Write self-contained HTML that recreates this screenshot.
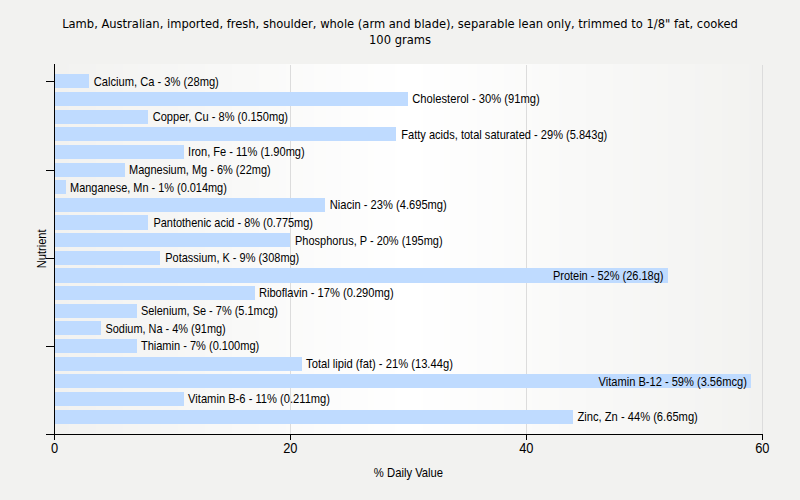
<!DOCTYPE html>
<html><head><meta charset="utf-8"><title>Lamb, Australian, imported, fresh, shoulder - % Daily Value</title>
<style>html,body{margin:0;padding:0;background:#f2f2f0;width:800px;height:500px;overflow:hidden}svg{display:block}</style>
</head><body>
<svg width="800" height="500" viewBox="0 0 800 500">
<rect x="0" y="0" width="800" height="500" fill="#f2f2f0"/>
<g shape-rendering="crispEdges">
<rect x="55" y="64" width="12" height="370" fill="#f2f2f0"/>
<rect x="67" y="64" width="2" height="370" fill="#f2f2f1"/>
<rect x="69" y="64" width="21" height="370" fill="#f3f3f1"/>
<rect x="90" y="64" width="6" height="370" fill="#f3f3f2"/>
<rect x="96" y="64" width="18" height="370" fill="#f4f4f2"/>
<rect x="114" y="64" width="9" height="370" fill="#f4f4f3"/>
<rect x="123" y="64" width="15" height="370" fill="#f5f5f3"/>
<rect x="138" y="64" width="12" height="370" fill="#f5f5f4"/>
<rect x="150" y="64" width="11" height="370" fill="#f6f6f4"/>
<rect x="161" y="64" width="17" height="370" fill="#f6f6f5"/>
<rect x="178" y="64" width="7" height="370" fill="#f7f7f5"/>
<rect x="185" y="64" width="20" height="370" fill="#f7f7f6"/>
<rect x="205" y="64" width="3" height="370" fill="#f8f8f6"/>
<rect x="208" y="64" width="24" height="370" fill="#f8f8f7"/>
<rect x="232" y="64" width="24" height="370" fill="#f9f9f8"/>
<rect x="256" y="64" width="3" height="370" fill="#f9f9f9"/>
<rect x="259" y="64" width="20" height="370" fill="#fafaf9"/>
<rect x="279" y="64" width="7" height="370" fill="#fafafa"/>
<rect x="286" y="64" width="17" height="370" fill="#fbfbfa"/>
<rect x="303" y="64" width="11" height="370" fill="#fbfbfb"/>
<rect x="314" y="64" width="12" height="370" fill="#fcfcfb"/>
<rect x="326" y="64" width="15" height="370" fill="#fcfcfc"/>
<rect x="341" y="64" width="9" height="370" fill="#fdfdfc"/>
<rect x="350" y="64" width="18" height="370" fill="#fdfdfd"/>
<rect x="368" y="64" width="6" height="370" fill="#fefefd"/>
<rect x="374" y="64" width="21" height="370" fill="#fefefe"/>
<rect x="395" y="64" width="2" height="370" fill="#fffffe"/>
<rect x="397" y="64" width="24" height="370" fill="#ffffff"/>
<rect x="421" y="64" width="2" height="370" fill="#fffffe"/>
<rect x="423" y="64" width="21" height="370" fill="#fefefe"/>
<rect x="444" y="64" width="6" height="370" fill="#fefefd"/>
<rect x="450" y="64" width="18" height="370" fill="#fdfdfd"/>
<rect x="468" y="64" width="9" height="370" fill="#fdfdfc"/>
<rect x="477" y="64" width="15" height="370" fill="#fcfcfc"/>
<rect x="492" y="64" width="12" height="370" fill="#fcfcfb"/>
<rect x="504" y="64" width="11" height="370" fill="#fbfbfb"/>
<rect x="515" y="64" width="17" height="370" fill="#fbfbfa"/>
<rect x="532" y="64" width="7" height="370" fill="#fafafa"/>
<rect x="539" y="64" width="20" height="370" fill="#fafaf9"/>
<rect x="559" y="64" width="3" height="370" fill="#f9f9f9"/>
<rect x="562" y="64" width="24" height="370" fill="#f9f9f8"/>
<rect x="586" y="64" width="24" height="370" fill="#f8f8f7"/>
<rect x="610" y="64" width="3" height="370" fill="#f8f8f6"/>
<rect x="613" y="64" width="20" height="370" fill="#f7f7f6"/>
<rect x="633" y="64" width="7" height="370" fill="#f7f7f5"/>
<rect x="640" y="64" width="17" height="370" fill="#f6f6f5"/>
<rect x="657" y="64" width="11" height="370" fill="#f6f6f4"/>
<rect x="668" y="64" width="12" height="370" fill="#f5f5f4"/>
<rect x="680" y="64" width="15" height="370" fill="#f5f5f3"/>
<rect x="695" y="64" width="9" height="370" fill="#f4f4f3"/>
<rect x="704" y="64" width="18" height="370" fill="#f4f4f2"/>
<rect x="722" y="64" width="6" height="370" fill="#f3f3f2"/>
<rect x="728" y="64" width="21" height="370" fill="#f3f3f1"/>
<rect x="749" y="64" width="2" height="370" fill="#f2f2f1"/>
<rect x="751" y="64" width="12" height="370" fill="#f2f2f0"/>
<rect x="290" y="65" width="1" height="369" fill="#dcdcdc"/>
<rect x="526" y="65" width="1" height="369" fill="#dcdcdc"/>
<rect x="762" y="65" width="1" height="369" fill="#dcdcdc"/>
<rect x="55" y="74" width="34" height="14" fill="#bfdbff"/>
<rect x="55" y="92" width="353" height="14" fill="#bfdbff"/>
<rect x="55" y="110" width="93" height="14" fill="#bfdbff"/>
<rect x="55" y="127" width="341" height="14" fill="#bfdbff"/>
<rect x="55" y="145" width="129" height="14" fill="#bfdbff"/>
<rect x="55" y="163" width="70" height="14" fill="#bfdbff"/>
<rect x="55" y="180" width="11" height="14" fill="#bfdbff"/>
<rect x="55" y="198" width="270" height="14" fill="#bfdbff"/>
<rect x="55" y="215" width="93" height="15" fill="#bfdbff"/>
<rect x="55" y="233" width="235" height="14" fill="#bfdbff"/>
<rect x="55" y="251" width="105" height="14" fill="#bfdbff"/>
<rect x="55" y="268" width="613" height="15" fill="#bfdbff"/>
<rect x="55" y="286" width="200" height="14" fill="#bfdbff"/>
<rect x="55" y="304" width="82" height="14" fill="#bfdbff"/>
<rect x="55" y="321" width="46" height="14" fill="#bfdbff"/>
<rect x="55" y="339" width="82" height="14" fill="#bfdbff"/>
<rect x="55" y="357" width="247" height="14" fill="#bfdbff"/>
<rect x="55" y="374" width="696" height="14" fill="#bfdbff"/>
<rect x="55" y="392" width="129" height="14" fill="#bfdbff"/>
<rect x="55" y="410" width="518" height="14" fill="#bfdbff"/>
<rect x="54" y="64" width="1" height="376" fill="#000"/>
<rect x="46" y="434" width="717" height="1" fill="#000"/>
<rect x="46" y="81" width="8" height="1" fill="#000"/>
<rect x="46" y="170" width="8" height="1" fill="#000"/>
<rect x="46" y="258" width="8" height="1" fill="#000"/>
<rect x="46" y="346" width="8" height="1" fill="#000"/>
<rect x="290" y="435" width="1" height="5" fill="#000"/>
<rect x="526" y="435" width="1" height="5" fill="#000"/>
<rect x="762" y="435" width="1" height="5" fill="#000"/>
</g>
<g style="font-family:'Liberation Sans',sans-serif;font-size:12px" fill="#000">
<text transform="translate(93.70,86) scale(0.9295,1)">Calcium, Ca - 3% (28mg)</text>
<text transform="translate(412.30,103) scale(0.9323,1)">Cholesterol - 30% (91mg)</text>
<text transform="translate(152.70,121) scale(0.9234,1)">Copper, Cu - 8% (0.150mg)</text>
<text transform="translate(401.25,139) scale(0.9233,1)">Fatty acids, total saturated - 29% (5.843g)</text>
<text transform="translate(188.10,156) scale(0.9228,1)">Iron, Fe - 11% (1.90mg)</text>
<text transform="translate(129.10,174) scale(0.9149,1)">Magnesium, Mg - 6% (22mg)</text>
<text transform="translate(70.10,192) scale(0.9118,1)">Manganese, Mn - 1% (0.014mg)</text>
<text transform="translate(329.70,209) scale(0.9292,1)">Niacin - 23% (4.695mg)</text>
<text transform="translate(153.45,227) scale(0.9134,1)">Pantothenic acid - 8% (0.775mg)</text>
<text transform="translate(295.05,245) scale(0.9151,1)">Phosphorus, P - 20% (195mg)</text>
<text transform="translate(165.25,262) scale(0.9145,1)">Potassium, K - 9% (308mg)</text>
<text transform="translate(552.90,280) scale(0.9170,1)">Protein - 52% (26.18g)</text>
<text transform="translate(258.90,297) scale(0.9275,1)">Riboflavin - 17% (0.290mg)</text>
<text transform="translate(140.90,315) scale(0.9140,1)">Selenium, Se - 7% (5.1mcg)</text>
<text transform="translate(105.50,333) scale(0.9114,1)">Sodium, Na - 4% (91mg)</text>
<text transform="translate(140.90,350) scale(0.9212,1)">Thiamin - 7% (0.100mg)</text>
<text transform="translate(306.10,368) scale(0.9335,1)">Total lipid (fat) - 21% (13.44g)</text>
<text transform="translate(598.60,386) scale(0.9239,1)">Vitamin B-12 - 59% (3.56mcg)</text>
<text transform="translate(188.10,403) scale(0.9302,1)">Vitamin B-6 - 11% (0.211mg)</text>
<text transform="translate(577.50,421) scale(0.9313,1)">Zinc, Zn - 44% (6.65mg)</text>
</g>
<g style="font-family:'Liberation Sans',sans-serif;font-size:14px" fill="#000" text-anchor="middle">
<text transform="translate(54.5,453) scale(0.92,1)">0</text>
<text transform="translate(290.3,453) scale(0.92,1)">20</text>
<text transform="translate(526.3,453) scale(0.92,1)">40</text>
<text transform="translate(762.3,453) scale(0.92,1)">60</text>
</g>
<g style="font-family:'Liberation Sans',sans-serif;font-size:12px" fill="#000" text-anchor="middle">
<text transform="translate(408.5,477) scale(0.94,1)">% Daily Value</text>
<text transform="translate(46,248.8) rotate(-90) scale(0.922,1)">Nutrient</text>
</g>
<g style="font-family:'DejaVu Sans Condensed','DejaVu Sans','Liberation Sans',sans-serif;font-size:12.8px" fill="#000" text-anchor="middle">
<text x="400" y="28">Lamb, Australian, imported, fresh, shoulder, whole (arm and blade), separable lean only, trimmed to 1/8&quot; fat, cooked</text>
<text x="400" y="44">100 grams</text>
</g>
</svg>
</body></html>
